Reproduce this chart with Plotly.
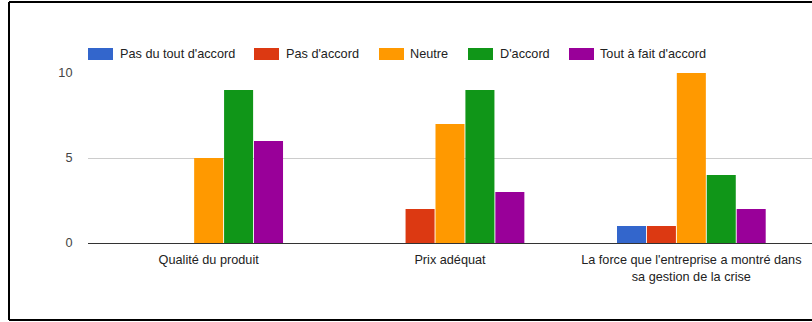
import plotly.graph_objects as go

categories = ["Qualité du produit", "Prix adéquat",
              "La force que l'entreprise a montré dans<br>sa gestion de la crise"]
series_names = ["Pas du tout d'accord", "Pas d'accord", "Neutre", "D'accord", "Tout à fait d'accord"]
pas_du_tout = [0, 0, 1]
pas_accord = [0, 2, 1]
neutre = [5, 7, 10]
accord = [9, 9, 4]
tout_a_fait = [6, 3, 2]
colors = ["#3366cc", "#dc3912", "#ff9900", "#109618", "#990099"]
y_ticks = [0, 5, 10]

FS = 12.7

fig = go.Figure()
for name, vals, col in zip(series_names, [pas_du_tout, pas_accord, neutre, accord, tout_a_fait], colors):
    fig.add_trace(go.Bar(x=categories, y=vals, name=name, showlegend=False,
                         marker=dict(color=col, line=dict(width=0))))

W, H = 812, 322
L, T, B, R = 88, 73, 79, 0
pw, ph = W - L - R, H - T - B

def px(x):
    return (x - L) / pw

def py(y):
    return (H - B - y) / ph

fig.update_layout(
    width=W, height=H,
    margin=dict(l=L, r=R, t=T, b=B, pad=0),
    paper_bgcolor="white", plot_bgcolor="white",
    font=dict(family="Liberation Sans, Arial, sans-serif", size=FS, color="#222222"),
    barmode="group", bargap=0.38, bargroupgap=0.03,
    showlegend=False,
    xaxis=dict(showgrid=False, ticks="outside", ticklen=5, tickcolor="rgba(0,0,0,0)",
               tickfont=dict(size=FS, color="#222222"), showline=False, zeroline=False),
    yaxis=dict(range=[0, 10], tickvals=y_ticks, showgrid=True, gridcolor="#cccccc", gridwidth=1,
               zeroline=True, zerolinecolor="#333333", zerolinewidth=1,
               ticks="outside", ticklen=12, tickcolor="rgba(0,0,0,0)",
               tickfont=dict(size=FS, color="#444444"), showline=False),
)

# custom legend (Google-Charts-like wide swatches)
swatch_x = [88, 254, 379, 468, 569]
text_x = [118, 284, 408, 498, 598]
for name, col, sx, tx in zip(series_names, colors, swatch_x, text_x):
    fig.add_shape(type="rect", xref="paper", yref="paper",
                  x0=px(sx), x1=px(sx + 25), y0=py(48), y1=py(60),
                  fillcolor=col, line=dict(width=0))
    fig.add_annotation(text=name, xref="paper", yref="paper", x=px(tx), y=py(54),
                       xanchor="left", yanchor="middle", showarrow=False,
                       font=dict(size=FS, color="#222222"))

# frame border (cropped on the right)
border = dict(color="black", width=2)
fig.add_shape(type="line", xref="paper", yref="paper", x0=px(9), x1=px(9), y0=py(2), y1=py(320), line=border)
fig.add_shape(type="line", xref="paper", yref="paper", x0=px(9), x1=px(830), y0=py(2), y1=py(2), line=border)
fig.add_shape(type="line", xref="paper", yref="paper", x0=px(9), x1=px(830), y0=py(320), y1=py(320), line=border)

fig.write_html("out.html")
